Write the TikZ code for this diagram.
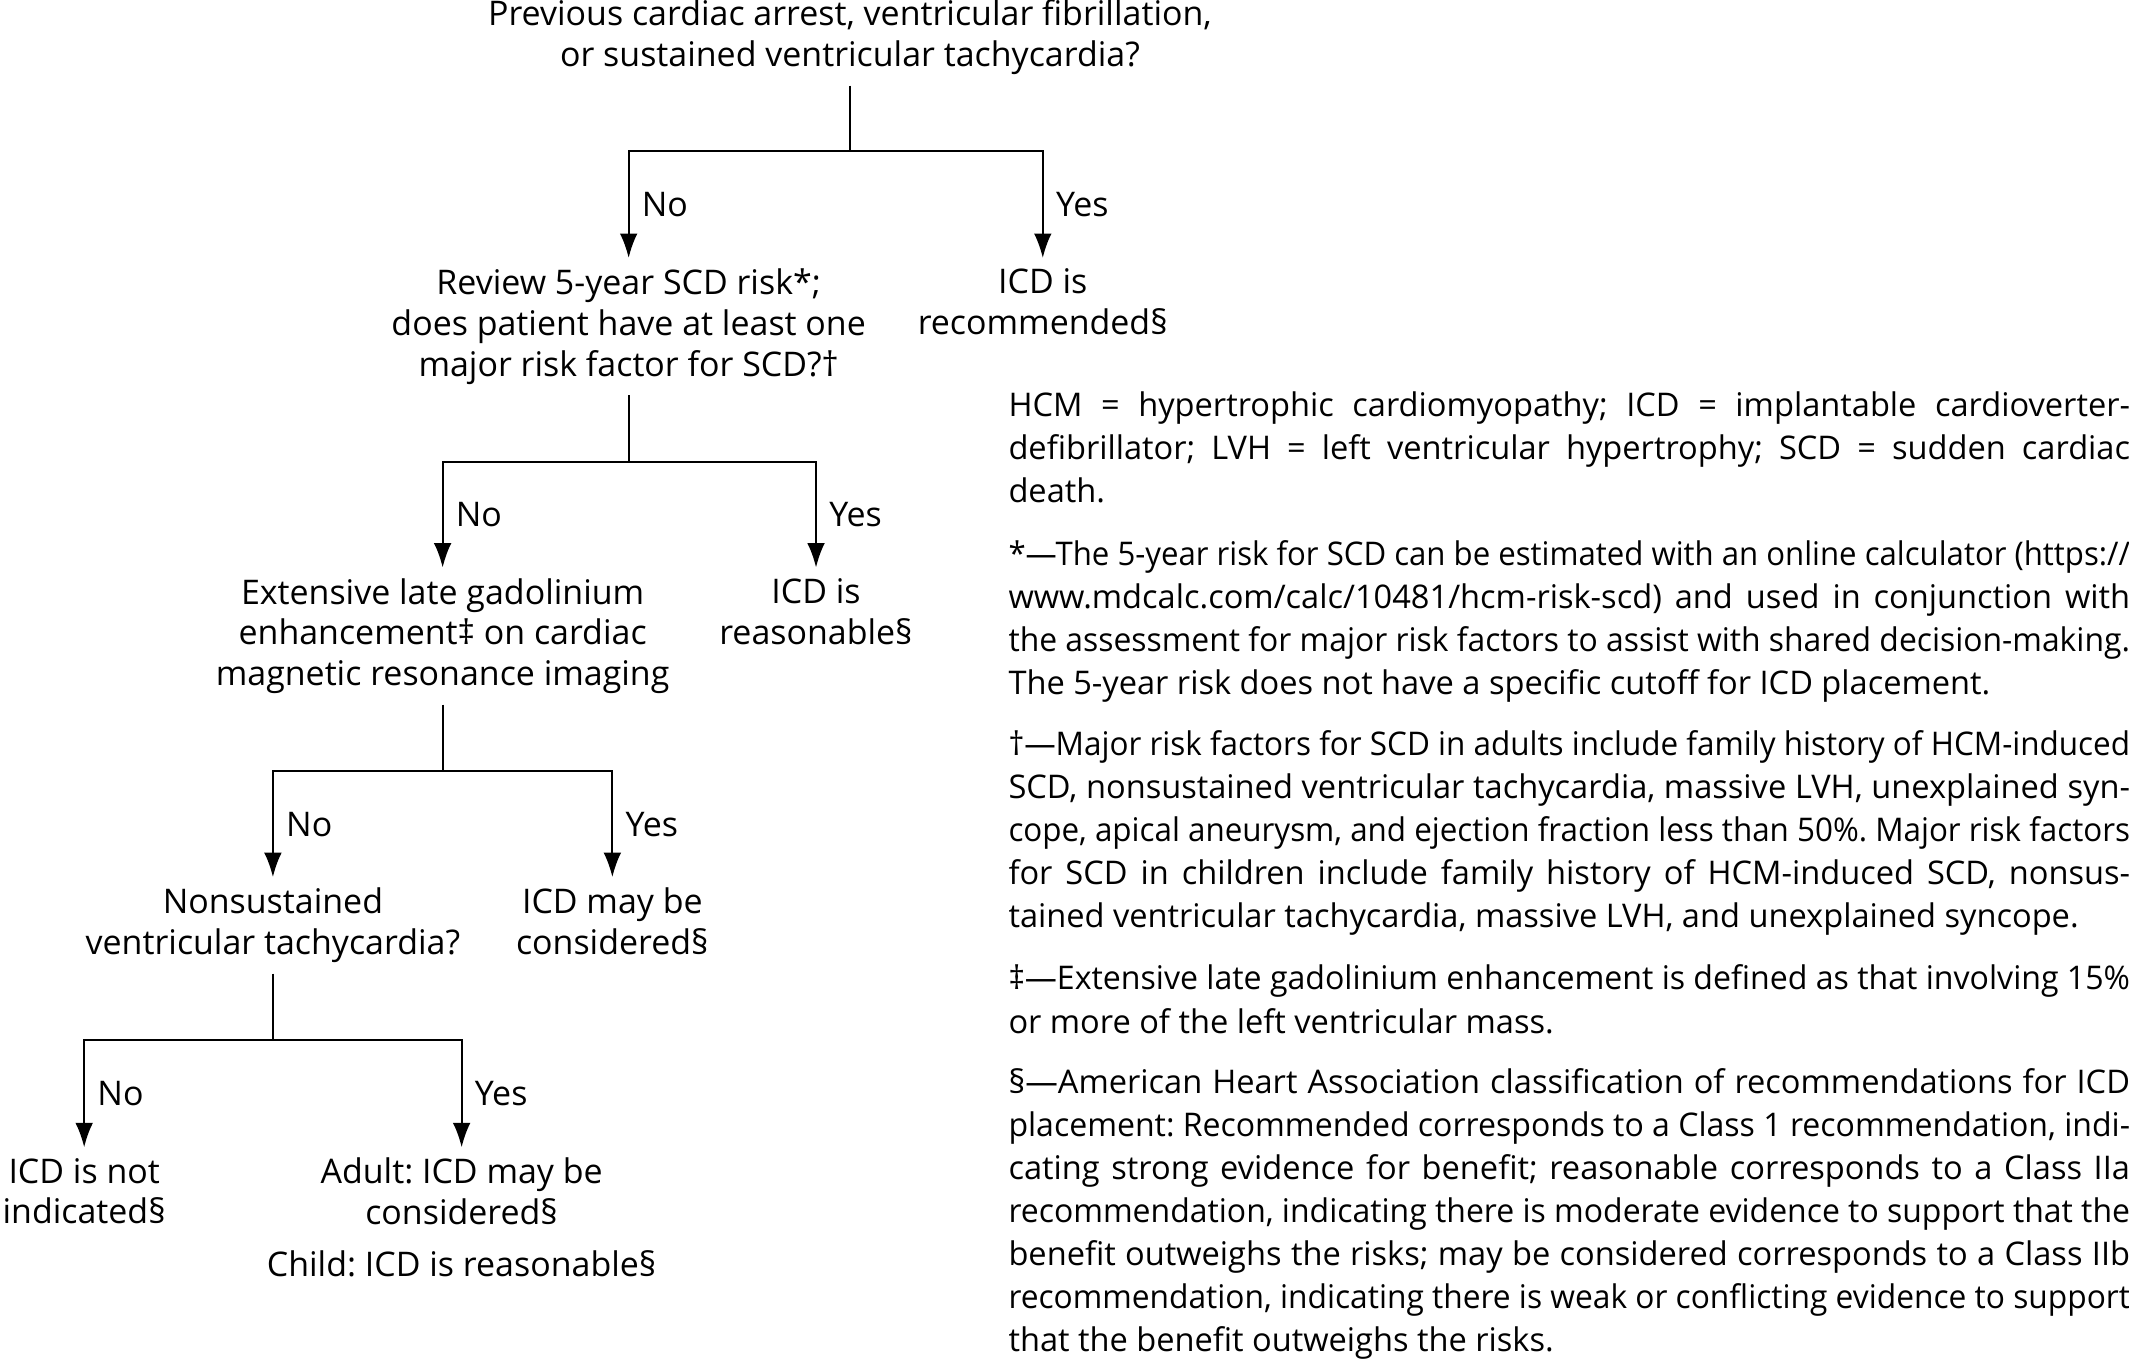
\documentclass[tikz,border=0pt]{standalone}
\usepackage{fontspec}
\setmainfont{Open Sans}
\usetikzlibrary{arrows.meta}
\frenchspacing
\newsavebox{\lnbox}
% justified note line: stretch the spaces, or squeeze the line if it is too long
\newcommand{\jl}[1]{\sbox{\lnbox}{#1}%
  \ifdim\wd\lnbox>826pt\resizebox{826pt}{\height}{\usebox{\lnbox}}\else\makebox[826pt][s]{#1}\fi}
\begin{document}
\begin{tikzpicture}
  [x=1pt,y=-1pt,line width=1.5pt,
   every node/.style={font=\fontsize{25}{30}\selectfont},
   box/.style={align=center,inner sep=0pt,outer sep=8pt,anchor=north},
   note/.style={align=left,inner sep=0pt,anchor=north west,font=\fontsize{24}{31.7}\selectfont},
   arr/.style={-{Latex[length=18pt,width=13pt]}},
   lbl/.style={pos=0.75,right,inner sep=9pt}]
  \useasboundingbox (0,0) rectangle (1568,1002);
  \node (arrest) [box] at (626,-8) {Previous cardiac arrest, ventricular fibrillation,\\or sustained ventricular tachycardia?};
  \node (review) [box] at (463,190) {Review 5-year SCD risk*;\\does patient have at least one\\major risk factor for SCD?†};
  \node (recom)  [box] at (768,190) {ICD is\\recommended§};
  \node (lge)    [box] at (326,418) {Extensive late gadolinium\\enhancement‡ on cardiac\\magnetic resonance imaging};
  \node (reason) [box] at (601,418) {ICD is\\reasonable§};
  \node (nsvt)   [box] at (201,646) {Nonsustained\\ventricular tachycardia?};
  \node (consid) [box] at (451,646) {ICD may be\\considered§};
  \node (notind) [box] at (62,845)  {ICD is not\\indicated§};
  \node (adult)  [box] at (340,845) {Adult: ICD may be\\considered§\\[8pt]Child: ICD is reasonable§};

  \coordinate (b1) at (626,111);
  \coordinate (b2) at (463,340);
  \coordinate (b3) at (326,568);
  \coordinate (b4) at (201,766);
  \foreach \from/\to in {arrest/b1,review/b2,lge/b3,nsvt/b4}
    \draw (\from.south) -- (\to);
  \foreach \bar/\no/\yes in {b1/review/recom,b2/lge/reason,b3/nsvt/consid,b4/notind/adult}
  {
    \draw[arr] (\bar) -| node[lbl]{No} (\no.north);
    \draw[arr] (\bar) -| node[lbl]{Yes} (\yes.north);
  }

  \node (abbr) [note] at (742,288) {\jl{HCM = hypertrophic cardiomyopathy; ICD = implantable cardioverter-}\\\jl{defibrillator; LVH = left ventricular hypertrophy; SCD = sudden cardiac}\\death.};
  \node (fn1) [note] at (742,397) {\jl{*—The 5-year risk for SCD can be estimated with an online calculator (https://}\\\jl{www.mdcalc.com/calc/10481/hcm-risk-scd) and used in conjunction with}\\\jl{the assessment for major risk factors to assist with shared decision-making.}\\The 5-year risk does not have a specific cutoff for ICD placement.};
  \node (fn2) [note] at (742,537) {\jl{†—Major risk factors for SCD in adults include family history of HCM-induced}\\\jl{SCD, nonsustained ventricular tachycardia, massive LVH, unexplained syn-}\\\jl{cope, apical aneurysm, and ejection fraction less than 50\%. Major risk factors}\\\jl{for SCD in children include family history of HCM-induced SCD, nonsus-}\\tained ventricular tachycardia, massive LVH, and unexplained syncope.};
  \node (fn3) [note] at (742,710) {\jl{‡—Extensive late gadolinium enhancement is defined as that involving 15\%}\\or more of the left ventricular mass.};
  \node (fn4) [note] at (742,786) {\jl{§—American Heart Association classification of recommendations for ICD}\\\jl{placement: Recommended corresponds to a Class 1 recommendation, indi-}\\\jl{cating strong evidence for benefit; reasonable corresponds to a Class IIa}\\\jl{recommendation, indicating there is moderate evidence to support that the}\\\jl{benefit outweighs the risks; may be considered corresponds to a Class IIb}\\\jl{recommendation, indicating there is weak or conflicting evidence to support}\\that the benefit outweighs the risks.};
\end{tikzpicture}
\end{document}
